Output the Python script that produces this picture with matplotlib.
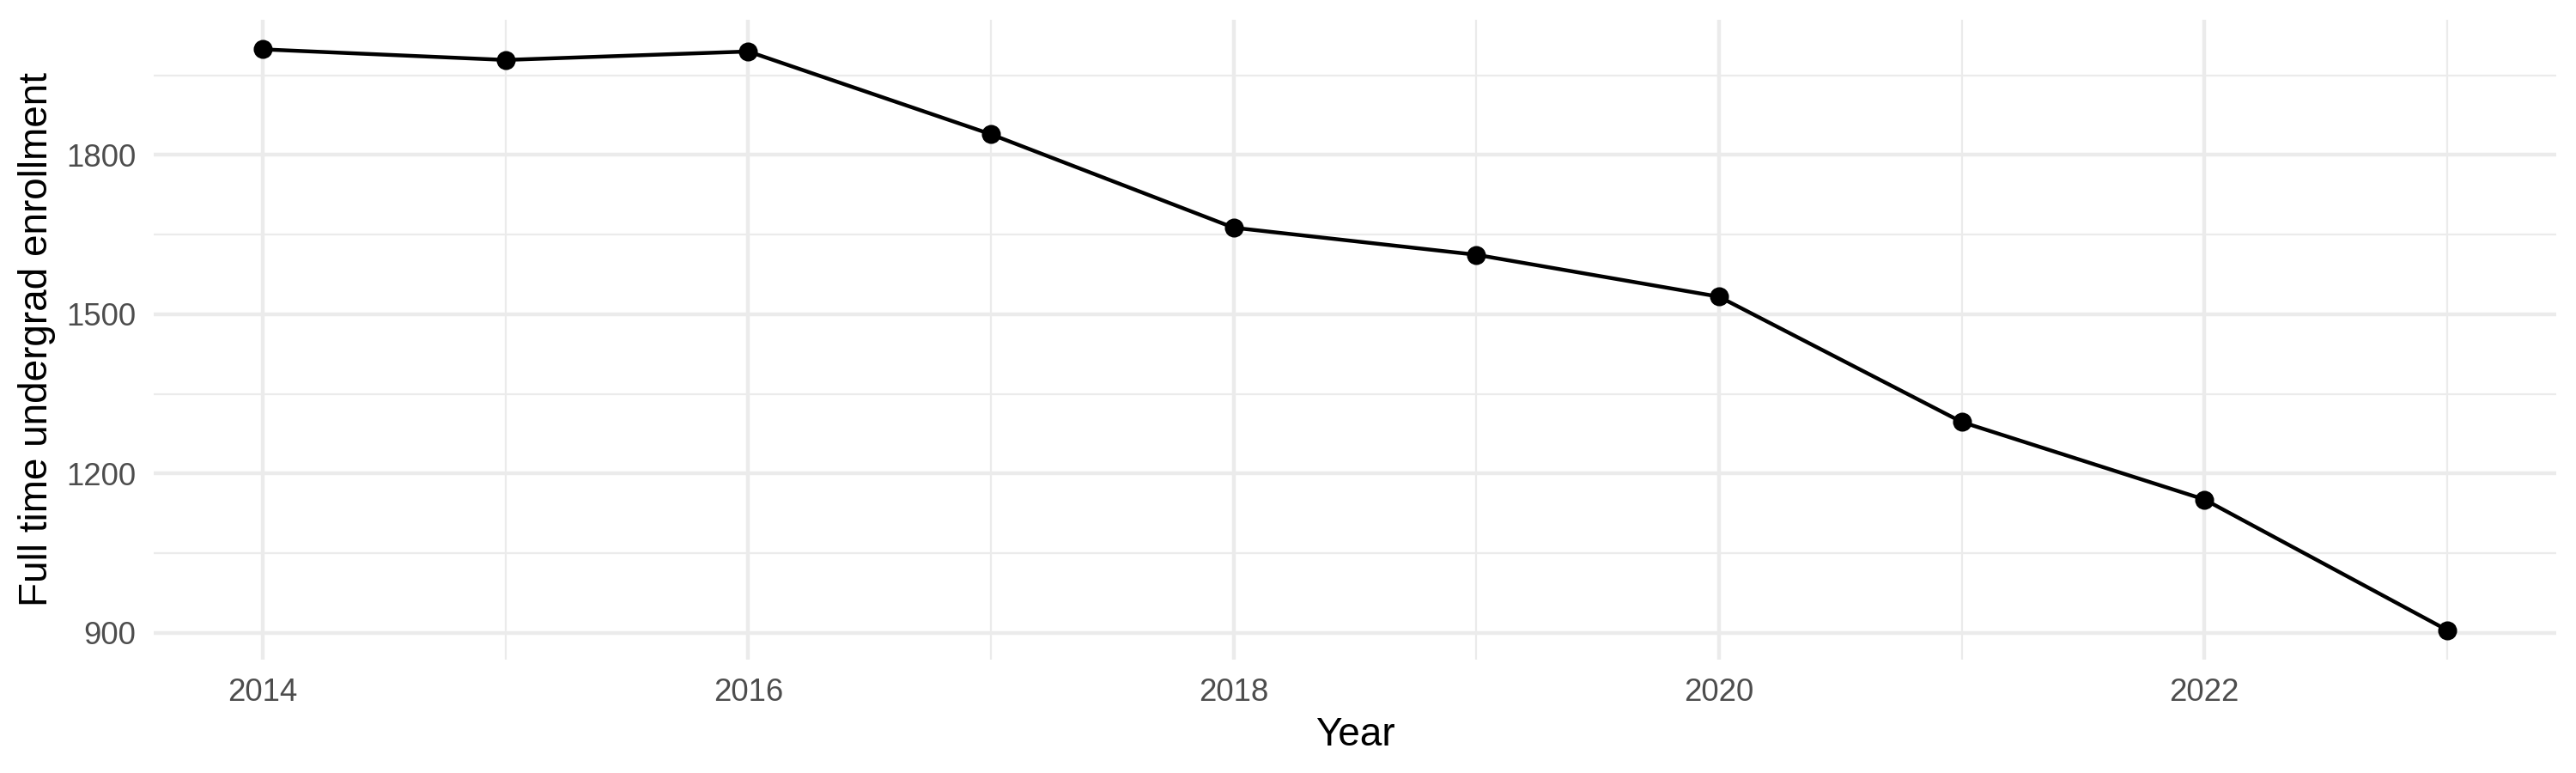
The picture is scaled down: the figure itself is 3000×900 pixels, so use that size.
import matplotlib
matplotlib.use("Agg")
import matplotlib.pyplot as plt
from matplotlib.ticker import FixedLocator

years = [2014, 2015, 2016, 2017, 2018, 2019, 2020, 2021, 2022, 2023]
enrollment = [1999, 1979, 1995, 1839, 1663, 1612, 1533, 1297, 1151, 905]
y_ticks = [900, 1200, 1500, 1800]
x_ticks = [2014, 2016, 2018, 2020, 2022]

plt.rcParams['font.family'] = ['Liberation Sans', 'DejaVu Sans']

fig = plt.figure(figsize=(10, 3), dpi=300)
fig.subplots_adjust(left=179/3000, right=2977/3000, top=1-23/900, bottom=1-768/900)
ax = fig.add_subplot(111)

grid_col = '#EBEBEB'
ax.set_xlim(2013.55, 2023.45)
ax.set_ylim(849.25, 2054.75)

ax.xaxis.set_major_locator(FixedLocator(x_ticks))
ax.xaxis.set_minor_locator(FixedLocator([2015, 2017, 2019, 2021, 2023]))
ax.yaxis.set_major_locator(FixedLocator(y_ticks))
ax.yaxis.set_minor_locator(FixedLocator([1050, 1350, 1650, 1950]))

ax.grid(which='major', color=grid_col, linewidth=1.07)
ax.grid(which='minor', color=grid_col, linewidth=0.53)
ax.set_axisbelow(True)
for s in ax.spines.values():
    s.set_visible(False)

ax.tick_params(which='both', length=0)
ax.tick_params(axis='both', which='major', pad=5.0, labelsize=8.8, labelcolor='#4D4D4D')

ax.plot(years, enrollment, color='black', linewidth=1.07, zorder=3)
ax.plot(years, enrollment, linestyle='none', marker='o', markersize=4.3,
        color='black', zorder=4)

ax.set_xlabel('Year', fontsize=11, color='black', labelpad=2.5)
ax.set_ylabel('Full time undergrad enrollment', fontsize=11, color='black', labelpad=2.8)

fig.savefig('out.png', dpi=300, facecolor='white')
